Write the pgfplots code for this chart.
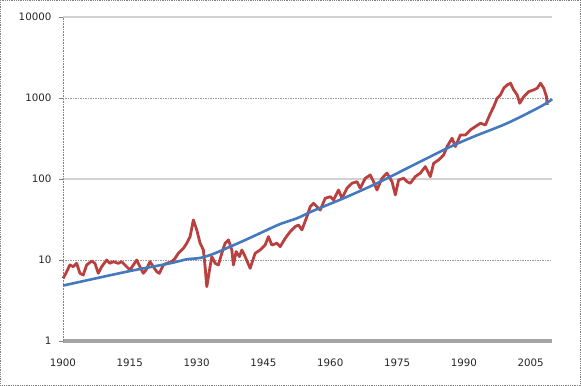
\documentclass[border=0pt]{standalone}
\usepackage{pgfplots}
\pgfplotsset{compat=1.18}
\usepackage{pgfplotstable}
\usepackage{fontspec}
\setmainfont{DejaVu Sans}
\definecolor{exred}{HTML}{B9403E}
\definecolor{exblue}{HTML}{4479BE}

\pgfplotstableread{
year value
1900.07 5.94
1900.83 7.17
1901.57 8.68
1902.31 8.27
1903.08 9.10
1903.82 6.85
1904.56 6.53
1905.33 8.68
1906.45 9.72
1907.19 9.10
1907.93 6.85
1908.70 8.27
1909.82 10.0
1910.56 9.10
1911.30 9.53
1912.43 9.10
1913.19 9.53
1914.31 8.27
1915.06 7.53
1915.80 8.68
1916.56 10.0
1917.30 8.27
1918.04 6.85
1918.65 7.53
1919.55 9.53
1920.29 8.27
1921.06 7.17
1921.64 6.85
1922.54 8.68
1923.30 9.10
1924.43 9.53
1925.17 10.49
1925.91 12.1
1927.03 13.9
1927.80 16.1
1928.54 19.4
1929.28 31.2
1930.04 23.5
1930.79 16.1
1931.53 13.3
1931.91 8.27
1932.29 4.68
1933.03 8.27
1933.42 11.0
1934.16 9.10
1934.90 8.68
1935.66 12.1
1936.40 16.1
1937.15 17.7
1937.91 13.3
1938.27 8.68
1938.88 12.7
1939.62 11.0
1940.16 13.3
1940.90 11.0
1942.02 7.90
1943.15 12.1
1944.27 13.3
1945.39 15.3
1946.13 19.4
1946.90 15.3
1948.02 16.1
1948.76 14.6
1949.89 18.5
1951.01 22.4
1952.13 25.8
1952.88 27.0
1953.64 23.5
1954.76 34.2
1955.51 45.5
1956.25 50.1
1957.01 45.5
1957.75 41.4
1958.88 57.8
1960.00 60.4
1960.74 55.0
1961.87 73.1
1962.63 57.8
1963.75 76.8
1964.88 88.5
1966.00 92.6
1966.74 76.8
1967.87 102
1968.99 112
1969.73 92.6
1970.49 73.1
1971.62 102
1972.74 118
1973.87 92.6
1974.61 63.5
1975.35 97.2
1976.47 102
1977.24 92.6
1977.98 88.5
1979.10 107
1980.22 118
1981.35 142
1982.47 107
1983.21 156
1984.34 172
1985.46 198
1986.22 251
1987.35 318
1988.09 251
1989.21 349
1990.34 349
1991.46 403
1992.58 443
1993.71 487
1994.83 464
1995.96 647
1996.70 781
1997.46 991
1998.20 1089
1998.94 1318
1999.71 1447
2000.45 1519
2001.19 1256
2001.96 1089
2002.54 860
2003.44 1038
2004.56 1196
2005.69 1256
2006.45 1318
2007.19 1519
2007.93 1318
2008.54 1038
2008.70 819
}\redtable

\pgfplotstableread{
year value
1900.07 4.84
1914.31 7.17
1924.04 9.10
1927.80 10.2
1930.79 10.6
1933.78 11.9
1937.53 14.6
1941.28 18.0
1945.01 22.4
1948.76 27.8
1952.52 32.7
1956.25 40.6
1962.99 57.8
1970.49 88.5
1977.98 142
1986.22 239
1992.20 333
1999.71 487
2007.19 781
2009.82 964
}\bluetable

\begin{document}
\begin{tikzpicture}[x=1bp,y=1bp]
\draw[gray, densely dotted, line width=0.8bp] (0.5,0.5) rectangle (580.5,385.5);
\begin{axis}[
  at={(63bp,45bp)}, anchor=south west,
  scale only axis,
  width=489bp, height=324bp,
  xmin=1900, xmax=2009.8,
  ymode=log, ymin=1, ymax=10000,
  axis lines*=left,
  x axis line style={line width=3.8bp, gray!70},
  y axis line style={densely dotted, gray, line width=0.6bp},
  xtick={1900,1915,1930,1945,1960,1975,1990,2005},
  xticklabels={1900,1915,1930,1945,1960,1975,1990,2005},
  x tick style={draw=none},
  ytick={1,100,10000},
  yticklabels={1,100,10000},
  extra y ticks={10,1000},
  extra y tick labels={10,1000},
  extra y tick style={grid=major, major grid style={densely dotted, gray!80, line width=0.6bp}},
  ymajorgrids,
  major grid style={gray!35, line width=1.5bp},
  yminorticks=false,
  y tick style={gray, line width=0.6bp},
  tick align=outside,
  major tick length=4bp,
  tick label style={font=\fontsize{10.3}{12}\selectfont, text=black!85},
  xticklabel style={yshift=-10bp},
  yticklabel style={xshift=-4bp},
  clip=false,
]
\addplot[exred, line width=2.8bp, line join=round] table[x=year,y=value] {\redtable};
\addplot[exblue, line width=2.6bp, smooth, tension=0.5] table[x=year,y=value] {\bluetable};
\end{axis}
\end{tikzpicture}
\end{document}
